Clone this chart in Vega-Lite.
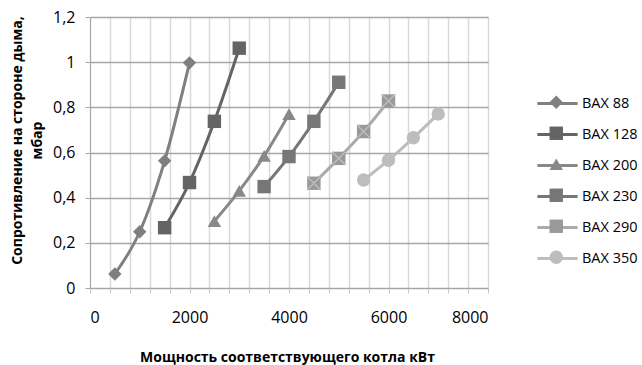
{
  "$schema": "https://vega.github.io/schema/vega-lite/v6.json",
  "width": 398,
  "height": 271,
  "autosize": "none",
  "padding": {"left": 90, "top": 17, "right": 154, "bottom": 77},
  "background": "white",
  "config": {
    "view": {"stroke": null},
    "font": "Open Sans"
  },
  "data": {
    "values": [
      {"series": "BAX 88", "power": 500, "resistance": 0.062},
      {"series": "BAX 88", "power": 1000, "resistance": 0.249},
      {"series": "BAX 88", "power": 1500, "resistance": 0.563},
      {"series": "BAX 88", "power": 2000, "resistance": 0.997},
      {"series": "BAX 128", "power": 1500, "resistance": 0.267},
      {"series": "BAX 128", "power": 2000, "resistance": 0.467},
      {"series": "BAX 128", "power": 2500, "resistance": 0.738},
      {"series": "BAX 128", "power": 3000, "resistance": 1.062},
      {"series": "BAX 200", "power": 2500, "resistance": 0.296},
      {"series": "BAX 200", "power": 3000, "resistance": 0.43},
      {"series": "BAX 200", "power": 3500, "resistance": 0.585},
      {"series": "BAX 200", "power": 4000, "resistance": 0.77},
      {"series": "BAX 230", "power": 3500, "resistance": 0.449},
      {"series": "BAX 230", "power": 4000, "resistance": 0.582},
      {"series": "BAX 230", "power": 4500, "resistance": 0.738},
      {"series": "BAX 230", "power": 5000, "resistance": 0.911},
      {"series": "BAX 290", "power": 4500, "resistance": 0.464},
      {"series": "BAX 290", "power": 5000, "resistance": 0.574},
      {"series": "BAX 290", "power": 5500, "resistance": 0.693},
      {"series": "BAX 290", "power": 6000, "resistance": 0.828},
      {"series": "BAX 350", "power": 5500, "resistance": 0.478},
      {"series": "BAX 350", "power": 6000, "resistance": 0.566},
      {"series": "BAX 350", "power": 6500, "resistance": 0.665},
      {"series": "BAX 350", "power": 7000, "resistance": 0.771}
    ]
  },
  "encoding": {
    "x": {
      "field": "power",
      "type": "quantitative",
      "scale": {"domain": [0, 8000], "nice": false, "zero": false},
      "axis": {
        "values": [0, 400, 800, 1200, 1600, 2000, 2400, 2800, 3200, 3600, 4000, 4400, 4800, 5200, 5600, 6000, 6400, 6800, 7200, 7600, 8000],
        "labelExpr": "datum.value % 2000 === 0 ? toString(datum.value) : ''",
        "labelFontSize": 16,
        "labelColor": "#000000",
        "labelPadding": 16,
        "tickSize": 5,
        "tickColor": "#c8c8c8",
        "domainColor": "#a6a6a6",
        "gridColor": "#d9d9d9",
        "gridWidth": 1.5,
        "title": "Мощность соответствующего котла кВт",
        "titleFontSize": 14,
        "titleFontWeight": "bold",
        "titleColor": "#000000",
        "titleX": 197,
        "titleY": 62,
        "titleBaseline": "top",
        "titleAlign": "center"
      }
    },
    "y": {
      "field": "resistance",
      "type": "quantitative",
      "scale": {"domain": [0, 1.2], "nice": false},
      "axis": {
        "values": [0, 0.2, 0.4, 0.6, 0.8, 1, 1.2],
        "labelExpr": "replace(toString(datum.value), '.', ',')",
        "labelFontSize": 16,
        "labelColor": "#000000",
        "labelPadding": 10,
        "tickSize": 5,
        "tickColor": "#a6a6a6",
        "domainColor": "#a6a6a6",
        "gridColor": "#a6a6a6",
        "gridWidth": 1.5,
        "title": ["Сопротивление на стороне дыма,", "мбар"],
        "titleFontSize": 14,
        "titleFontWeight": "bold",
        "titleColor": "#000000",
        "titleAngle": 270,
        "titleX": -80,
        "titleY": 123,
        "titleBaseline": "top",
        "titleAlign": "center",
        "titleLineHeight": 20
      }
    }
  },
  "layer": [
    {
      "mark": {"type": "line", "strokeWidth": 3, "interpolate": "monotone"},
      "encoding": {
        "color": {
          "field": "series",
          "type": "nominal",
          "scale": {
            "domain": ["BAX 88", "BAX 128", "BAX 200", "BAX 230", "BAX 290", "BAX 350"],
            "range": ["#808080", "#646464", "#888888", "#777777", "#ababab", "#bdbdbd"]
          },
          "legend": {
            "orient": "none",
            "legendX": 459,
            "legendY": 78,
            "padding": 0,
            "title": null,
            "symbolType": "M-3,0H3",
            "symbolSize": 180,
            "symbolStrokeWidth": 3,
            "labelFontSize": 14.5,
            "labelColor": "#000000",
            "labelOffset": 16,
            "rowPadding": 16
          }
        }
      }
    },
    {
      "mark": {"type": "point", "filled": true, "opacity": 1, "size": 180},
      "encoding": {
        "shape": {
          "field": "series",
          "type": "nominal",
          "scale": {
            "domain": ["BAX 88", "BAX 128", "BAX 200", "BAX 230", "BAX 290", "BAX 350"],
            "range": ["diamond", "square", "triangle-up", "square", "square", "circle"]
          },
          "legend": {
            "orient": "none",
            "legendX": 459,
            "legendY": 78,
            "padding": 0,
            "title": null,
            "symbolSize": 180,
            "symbolStrokeWidth": 0,
            "labelFontSize": 14.5,
            "labelColor": "transparent",
            "labelExpr": "''",
            "labelOffset": 16,
            "rowPadding": 16
          }
        },
        "fill": {
          "field": "series",
          "type": "nominal",
          "scale": {
            "domain": ["BAX 88", "BAX 128", "BAX 200", "BAX 230", "BAX 290", "BAX 350"],
            "range": ["#7f7f7f", "#646464", "#888888", "#777777", "#999999", "#bdbdbd"]
          },
          "legend": {
            "orient": "none",
            "legendX": 459,
            "legendY": 78,
            "padding": 0,
            "title": null,
            "symbolSize": 180,
            "symbolStrokeWidth": 0,
            "labelFontSize": 14.5,
            "labelColor": "transparent",
            "labelExpr": "''",
            "labelOffset": 16,
            "rowPadding": 16
          }
        }
      }
    },
    {
      "transform": [{"filter": "datum.series === 'BAX 290'"}],
      "mark": {"type": "point", "filled": false, "shape": "M-1,-1L1,1M-1,1L1,-1", "size": 180, "stroke": "#bdbdbd", "strokeWidth": 1.5, "opacity": 1},
      "encoding": {}
    }
  ],
  "resolve": {"scale": {"color": "independent", "fill": "independent", "shape": "independent"}}
}
